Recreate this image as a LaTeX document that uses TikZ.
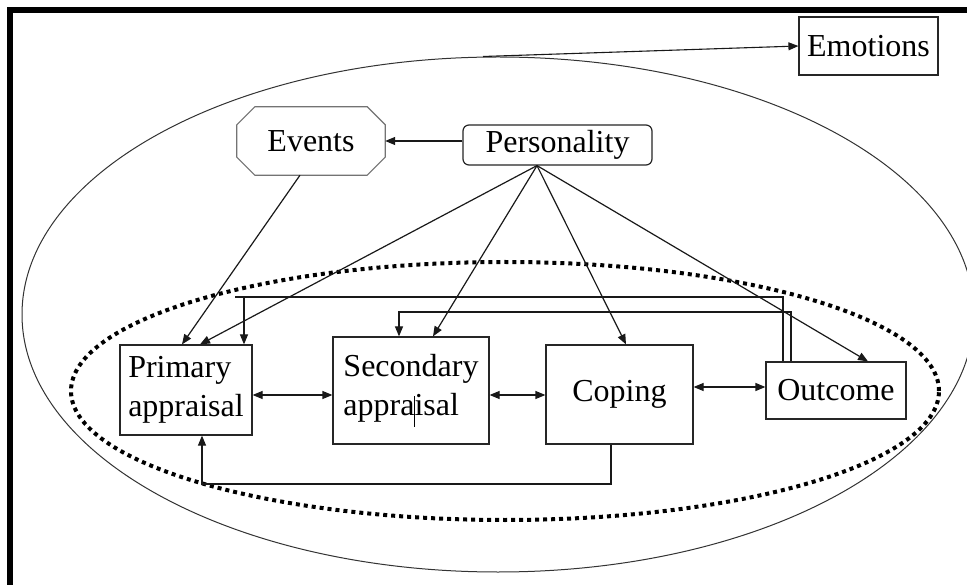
\documentclass[tikz,border=0pt]{standalone}
\usepackage{fontspec}
\setmainfont{Liberation Serif}
\usetikzlibrary{arrows.meta,shapes.geometric,calc}
\begin{document}
\begin{tikzpicture}[x=1pt,y=-1pt,
  font=\fontsize{32}{39}\selectfont,
  box/.style={draw=black!85,line width=1.2pt,inner sep=0pt,align=left},
  conn/.style={line width=1.2pt,draw=black!90},
  arr/.style={conn,-{Triangle[length=10pt,width=8pt]}},
  darr/.style={conn,{Triangle[length=10pt,width=8pt]}-{Triangle[length=10pt,width=8pt]}}]
\useasboundingbox (0,0) rectangle (967,585);
\clip (0,0) rectangle (967,585);
\fill[white] (0,0) rectangle (967,585);
% ellipses
\node[ellipse,draw=black!80,line width=1pt,minimum width=952pt,minimum height=515pt,inner sep=0pt] (outer) at (498,314.5) {};
\node[ellipse,draw=black,line width=4pt,dash pattern=on 4pt off 4pt,minimum width=868pt,minimum height=258pt,inner sep=0pt] (inner) at (505,391) {};
% nodes
\node[box,minimum width=139pt,minimum height=58pt] (emo) at (868.5,46) {Emotions};
\node[box,rounded corners=6pt,minimum width=189pt,minimum height=40pt] (pers) at (557.5,145) {Personality};
\node[inner sep=0pt,minimum width=148pt,minimum height=68pt] (ev) at (311,141) {Events};
\draw[draw=black!55,line width=1.2pt]
  ([xshift=18pt]ev.north west) -- ([xshift=-18pt]ev.north east)
  -- ([yshift=-18pt]ev.north east) -- ([yshift=18pt]ev.south east)
  -- ([xshift=-18pt]ev.south east) -- ([xshift=18pt]ev.south west)
  -- ([yshift=18pt]ev.south west) -- ([yshift=-18pt]ev.north west) -- cycle;
\node[box,minimum width=132pt,minimum height=90pt] (prim) at (186,390) {Primary\\appraisal};
\node[box,minimum width=156pt,minimum height=107pt] (sec) at (411,390.5) {Secondary\\appra\makebox[0pt]{\rule[-11pt]{1pt}{31pt}}isal};
\node[box,minimum width=147pt,minimum height=99pt] (cop) at (619.5,394.5) {Coping};
\node[box,minimum width=140pt,minimum height=57pt] (outc) at (836,390.5) {Outcome};
% frame
\draw[line width=6pt,line join=miter] (10,590) -- (10,10) -- (972,10);
% emotions arrow
\draw[arr,line width=1.1pt] ([xshift=-15pt]outer.north) -- (emo.west);
% personality -> events
\draw[arr] (pers.west |- ev.east) -- (ev.east);
% events -> primary
\draw[arr] ([xshift=-11pt]ev.south) -- ([xshift=-4pt]prim.north);
% personality fan
\draw[arr] ([xshift=-20.5pt]pers.south) -- ([xshift=14pt]prim.north);
\draw[arr] ([xshift=-20.5pt]pers.south) -- ([xshift=22pt]sec.north);
\draw[arr] ([xshift=-20.5pt]pers.south) -- ([xshift=6.5pt]cop.north);
\draw[arr] ([xshift=-20.5pt]pers.south) -- ([xshift=32pt]outc.north);
% feedback loops
\coordinate (tA) at (235,297);
\coordinate (tB) at (244,297);
\coordinate (tC) at (399,312);
\coordinate (tD) at (202,484);
\draw[conn] ([xshift=-53pt]outc.north) |- (tA);
\draw[arr] (tB) -- (tB |- prim.north);
\draw[arr] ([xshift=-45pt]outc.north) |- (tC) -- (tC |- sec.north);
\draw[arr] ([xshift=-8.5pt]cop.south) |- (tD) -- (tD |- prim.south);
% horizontal double arrows
\coordinate (ya) at (0,395);
\coordinate (yb) at (0,387);
\draw[darr] (prim.east |- ya) -- (sec.west |- ya);
\draw[darr] (sec.east |- ya) -- (cop.west |- ya);
\draw[darr] (cop.east |- yb) -- (outc.west |- yb);
\end{tikzpicture}
\end{document}
